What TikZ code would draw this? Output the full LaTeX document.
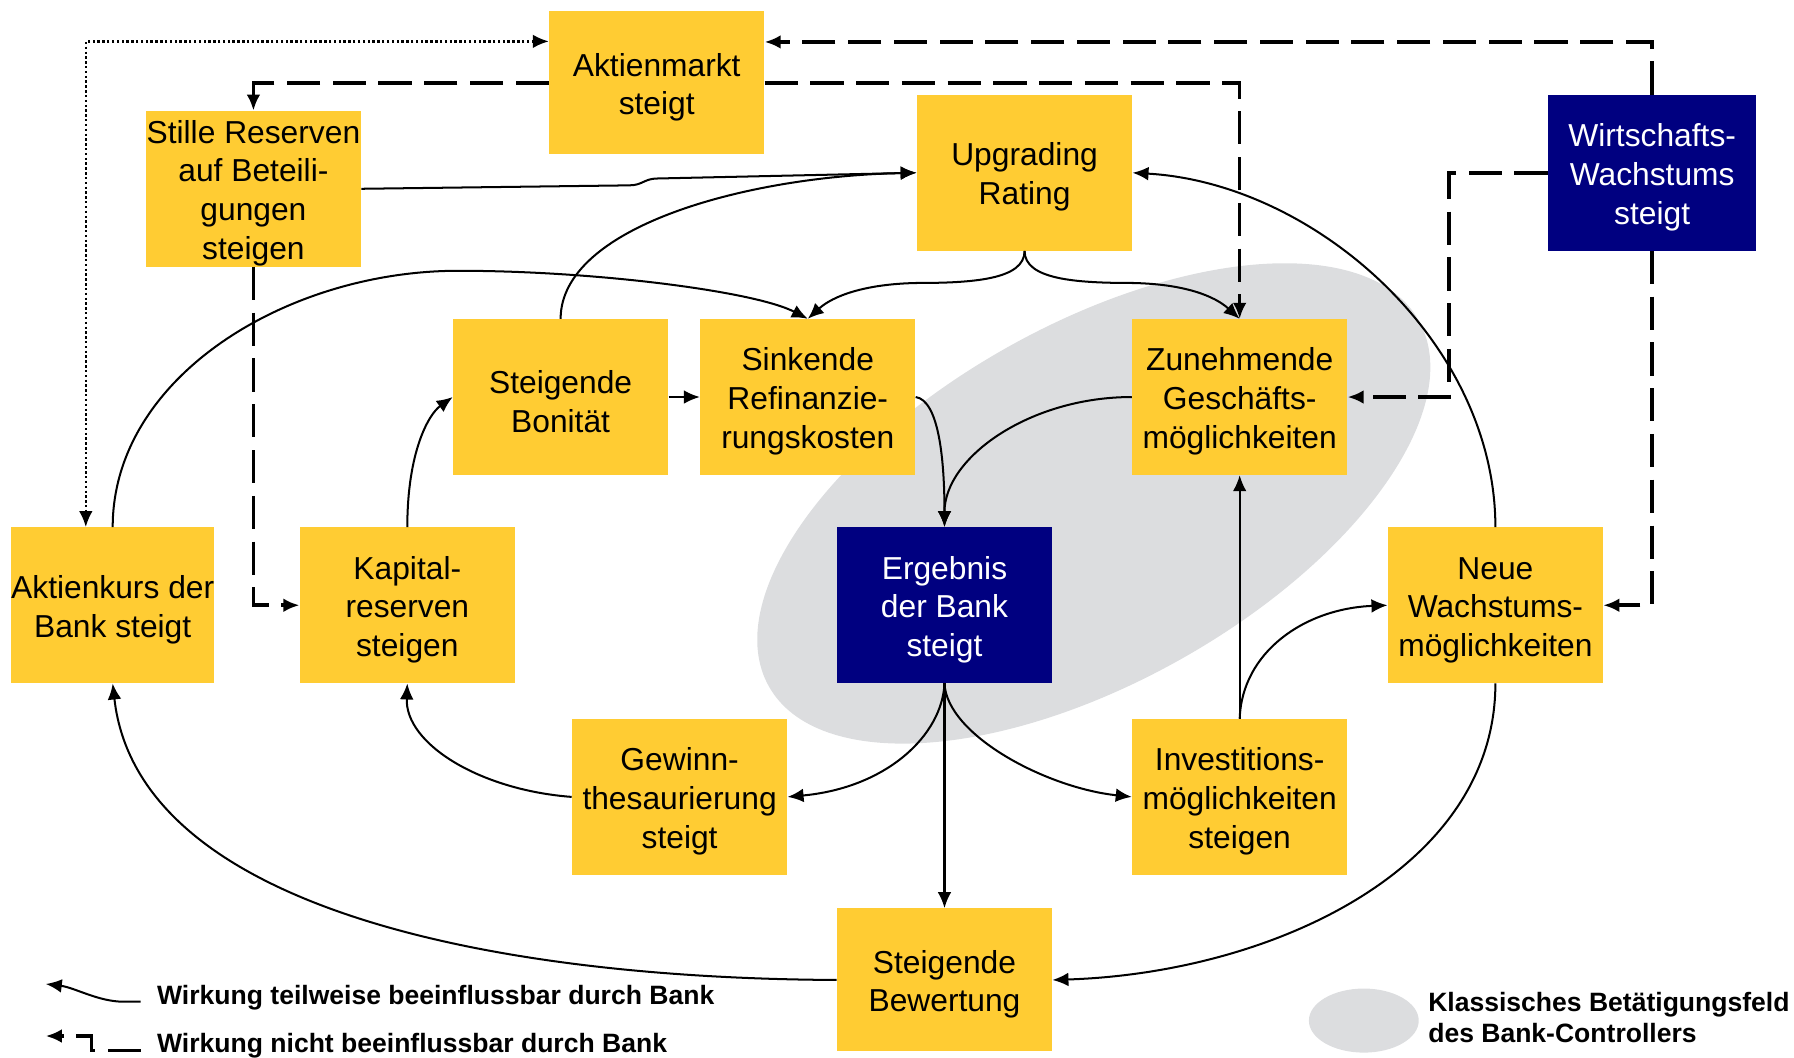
\documentclass[tikz,border=0pt]{standalone}
\usepackage{fontspec}
\setmainfont{Liberation Sans}
\usetikzlibrary{arrows.meta}
\definecolor{gelb}{RGB}{255,204,51}
\definecolor{marine}{RGB}{0,0,128}
\definecolor{feld}{RGB}{220,221,223}
\newcommand{\kopf}{\rule{0pt}{15.8pt}}

\begin{document}
\begin{tikzpicture}[x=0.02cm,y=-0.02cm,
  box/.style={fill=gelb, inner sep=0pt, minimum width=3.76cm, minimum height=2.72cm,
    align=center, font=\fontsize{15.8}{19.3}\selectfont},
  dunkel/.style={box, fill=marine, text=white},
  wirk/.style={line width=1pt, -{Latex[length=2.8mm,width=2.4mm]}},
  fremd/.style={line width=1.8pt, dash pattern=on 5.8mm off 2.2mm,
    -{Latex[length=2.8mm,width=2.4mm]}},
  punkt/.style={line width=1.2pt, dash pattern=on 1.2pt off 1.2pt,
    {Latex[length=2.8mm,width=2.4mm]}-{Latex[length=2.8mm,width=2.4mm]}},
  legende/.style={anchor=base west, inner sep=0pt, align=left,
    font=\fontsize{13.2}{15.4}\selectfont\bfseries}]
\useasboundingbox (0,0) rectangle (1568,924);

% Betaetigungsfeld
\fill[feld, rotate around={29.4:(956,440)}] (956,440) ellipse [x radius=6.52cm, y radius=3.12cm];

%%%%%%%%%%%%%%%%%%%%%%%%%%%%
\node[box, minimum height=2.5cm] (akm) at (574,72.5) {\kopf Aktienmarkt\\steigt};
\node[box] (stille) at (221.5,165) {\kopf Stille Reserven\\auf Beteili-\\gungen\\steigen};
\node[box] (upg) at (895.5,151) {\kopf Upgrading\\Rating};
\node[dunkel, minimum width=3.64cm] (wirt) at (1444,151) {\kopf Wirtschafts-\\Wachstums\\steigt};

\node[box] (bon) at (490,347) {\kopf Steigende\\Bonität};
\node[box] (sink) at (706,347) {\kopf Sinkende\\Refinanzie-\\rungskosten};
\node[box] (zun) at (1083.5,347) {\kopf Zunehmende\\Geschäfts-\\möglichkeiten};

\node[box, minimum width=3.54cm] (kurs) at (98.5,529) {\kopf Aktienkurs der\\Bank steigt};
\node[box] (kap) at (356,529) {\kopf Kapital-\\reserven\\steigen};
\node[dunkel] (erg) at (825.5,529) {\kopf Ergebnis\\der Bank\\steigt};
\node[box] (neu) at (1307,529) {\kopf Neue\\Wachstums-\\möglichkeiten};

\node[box] (gew) at (594,696.5) {\kopf Gewinn-\\thesaurierung\\steigt};
\node[box] (inv) at (1083.5,696.5) {\kopf Investitions-\\möglichkeiten\\steigen};
\node[box, minimum height=2.5cm] (bew) at (825.5,856.5) {\kopf Steigende\\Bewertung};

%%%%%%%%%%%%%%%%%%%%%%%%%%%%
% nicht beeinflussbar
\draw[fremd] (wirt.north) |- ([yshift=-0.54cm]akm.north east);
\draw[fremd] (akm.west) -| (stille.north);
\draw[fremd] (akm.east) -| (zun.north);
\draw[fremd] (wirt.west) -- ++(-86,0) |- (zun.east);
\draw[fremd] (wirt.south) |- (neu.east);
\draw[fremd] (stille.south) |- (kap.west);
\draw[punkt] ([yshift=-0.53cm]akm.north west) -| ([xshift=-0.47cm]kurs.north);

% teilweise beeinflussbar
\draw[wirk] (stille.east) -- ++(234,-3) .. controls +(12,0) and +(-12,0) .. ++(25,-6) -- (upg.west);
\draw[wirk] (bon.north) .. controls +(0,-80) and +(-150,3) .. (upg.west);
\draw[wirk] (upg.south) .. controls +(0,25) and +(50,0) .. ++(-95,28)
  .. controls +(-45,1) and +(22,-20) .. (sink.north);
\draw[wirk] (upg.south) .. controls +(0,25) and +(-50,0) .. ++(95,28)
  .. controls +(45,1) and +(-22,-20) .. (zun.north);
\draw[wirk] (kurs.north) .. controls +(0,-131) and +(-150,0) .. ++(302,-224)
  .. controls +(120,0) and +(-46,-24) .. (sink.north);
\draw[wirk] (bon.east) -- (sink.west);
\draw[wirk] (sink.east) .. controls +(20,3) and +(0,-60) .. (erg.north);
\draw[wirk] (zun.west) .. controls +(-89,0) and +(0,-61) .. (erg.north);
\draw[wirk] (kap.north) .. controls +(0,-66) and +(-21,15) .. (bon.west);
\draw[wirk] (neu.north) .. controls +(0,-161) and +(160,9) .. (upg.east);
\draw[wirk] (erg.south) .. controls +(-2,45) and +(87,-8) .. (gew.east);
\draw[wirk] (erg.south) .. controls +(2,45) and +(-75,-8) .. (inv.west);
\draw[wirk] (erg.south) -- (bew.north);
\draw[wirk] (inv.north) -- (zun.south);
\draw[wirk] (inv.north) .. controls +(2,-58) and +(-73,3) .. (neu.west);
\draw[wirk] (gew.west) .. controls +(-80,-6) and +(-2,53) .. (kap.south);
\draw[wirk] (neu.south) .. controls +(0,163) and +(190,-6) .. (bew.east);
\draw[wirk] (bew.west) .. controls +(-311,-1.5) and +(21.5,193) .. (kurs.south);

%%%%%%%%%%%%%%%%%%%%%%%%%%%%
% Legende
\coordinate (la) at (123,875.5);
\coordinate (laspitze) at (40,860);
\draw[wirk] (la) -- ++(-15,0) .. controls +(-22,0) and +(25,3) .. (laspitze);
\node[legende] (ta) at (137,878) {Wirkung teilweise beeinflussbar durch Bank};

\coordinate (lb) at (123,918);
\coordinate (lbspitze) at (40,905.5);
\draw[fremd] (lb) -| (80,905.5) -- (lbspitze);
\node[legende] (tb) at (137,920) {Wirkung nicht beeinflussbar durch Bank};

\fill[feld] (1192,892) ellipse [x radius=48, y radius=28];
\node[legende] (tc) at (1248,911) {Klassisches Betätigungsfeld\\des Bank-Controllers};
\end{tikzpicture}
\end{document}
